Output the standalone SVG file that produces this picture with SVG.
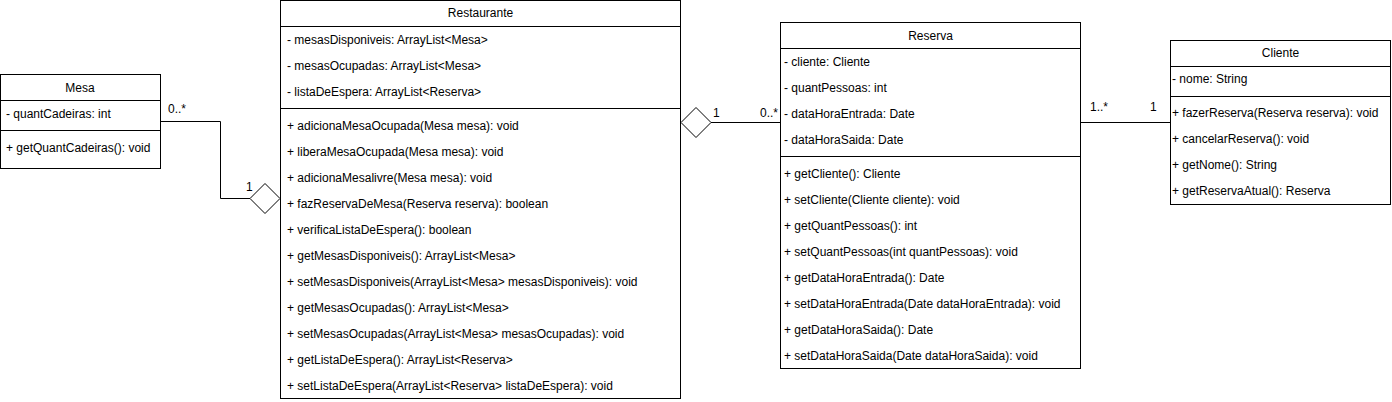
<svg xmlns="http://www.w3.org/2000/svg" width="1392" height="402" viewBox="0 0 1392 402">
<style>
.box{fill:#fff;stroke:#000;stroke-width:1}
.sep{stroke:#000;stroke-width:1}
text{font-family:"Liberation Sans",Arial,Helvetica,sans-serif;font-size:12px;fill:#000}
.t{text-anchor:middle}
.conn{fill:none;stroke:#000;stroke-width:1}
.dia{fill:#fff;stroke:#000;stroke-width:1}
</style>
<rect width="1392" height="402" fill="#fff"/>
<g id="connectors">
<polyline class="conn" points="160,121.5 220.5,121.5 220.5,198.5 250,198.5"/>
<polygon class="dia" points="250,198.5 265,183.5 280,198.5 265,213.5"/>
<text x="168" y="113">0..*</text>
<text x="246" y="191">1</text>
<line class="conn" x1="711" y1="122.5" x2="780" y2="122.5"/>
<polygon class="dia" points="681,122.5 696,107.5 711,122.5 696,137.5"/>
<text x="713" y="117">1</text>
<text x="760" y="117">0..*</text>
<line class="conn" x1="1080" y1="122.5" x2="1170" y2="122.5"/>
<text x="1090" y="111">1..*</text>
<text x="1150" y="111">1</text>
</g>
<g id="Mesa">
<rect class="box" x="0.5" y="74.5" width="160" height="94"/>
<line class="sep" x1="0.5" y1="100.5" x2="160.5" y2="100.5"/>
<line class="sep" x1="0.5" y1="130.5" x2="160.5" y2="130.5"/>
<text class="t" x="80" y="92">Mesa</text>
<text x="6" y="118">- quantCadeiras: int</text>
<text x="6" y="152">+ getQuantCadeiras(): void</text>
</g>
<g id="Restaurante">
<rect class="box" x="280.5" y="0.5" width="400" height="398"/>
<line class="sep" x1="280.5" y1="26.5" x2="680.5" y2="26.5"/>
<line class="sep" x1="280.5" y1="108.5" x2="680.5" y2="108.5"/>
<text class="t" x="480.5" y="17">Restaurante</text>
<text x="287" y="44">- mesasDisponiveis: ArrayList&lt;Mesa&gt;</text>
<text x="287" y="70">- mesasOcupadas: ArrayList&lt;Mesa&gt;</text>
<text x="287" y="96">- listaDeEspera: ArrayList&lt;Reserva&gt;</text>
<text x="287" y="130">+ adicionaMesaOcupada(Mesa mesa): void</text>
<text x="287" y="156">+ liberaMesaOcupada(Mesa mesa): void</text>
<text x="287" y="182">+ adicionaMesalivre(Mesa mesa): void</text>
<text x="287" y="208">+ fazReservaDeMesa(Reserva reserva): boolean</text>
<text x="287" y="234">+ verificaListaDeEspera(): boolean</text>
<text x="287" y="260">+ getMesasDisponiveis(): ArrayList&lt;Mesa&gt;</text>
<text x="287" y="286">+ setMesasDisponiveis(ArrayList&lt;Mesa&gt; mesasDisponiveis): void</text>
<text x="287" y="312">+ getMesasOcupadas(): ArrayList&lt;Mesa&gt;</text>
<text x="287" y="338">+ setMesasOcupadas(ArrayList&lt;Mesa&gt; mesasOcupadas): void</text>
<text x="287" y="364">+ getListaDeEspera(): ArrayList&lt;Reserva&gt;</text>
<text x="287" y="390">+ setListaDeEspera(ArrayList&lt;Reserva&gt; listaDeEspera): void</text>
</g>
<g id="Reserva">
<rect class="box" x="780.5" y="22.5" width="300" height="346"/>
<line class="sep" x1="780.5" y1="48.5" x2="1080.5" y2="48.5"/>
<line class="sep" x1="780.5" y1="156.5" x2="1080.5" y2="156.5"/>
<text class="t" x="930.5" y="40">Reserva</text>
<text x="784" y="66">- cliente: Cliente</text>
<text x="784" y="92">- quantPessoas: int</text>
<text x="784" y="118">- dataHoraEntrada: Date</text>
<text x="784" y="144">- dataHoraSaida: Date</text>
<text x="784" y="178">+ getCliente(): Cliente</text>
<text x="784" y="204">+ setCliente(Cliente cliente): void</text>
<text x="784" y="230">+ getQuantPessoas(): int</text>
<text x="784" y="256">+ setQuantPessoas(int quantPessoas): void</text>
<text x="784" y="282">+ getDataHoraEntrada(): Date</text>
<text x="784" y="308">+ setDataHoraEntrada(Date dataHoraEntrada): void</text>
<text x="784" y="334">+ getDataHoraSaida(): Date</text>
<text x="784" y="360">+ setDataHoraSaida(Date dataHoraSaida): void</text>
</g>
<g id="Cliente">
<rect class="box" x="1170.5" y="40.5" width="220" height="164"/>
<line class="sep" x1="1170.5" y1="66.5" x2="1390.5" y2="66.5"/>
<line class="sep" x1="1170.5" y1="96.5" x2="1390.5" y2="96.5"/>
<text class="t" x="1280.5" y="57">Cliente</text>
<text x="1172" y="83">- nome: String</text>
<text x="1172" y="117">+ fazerReserva(Reserva reserva): void</text>
<text x="1172" y="143">+ cancelarReserva(): void</text>
<text x="1172" y="169">+ getNome(): String</text>
<text x="1172" y="195">+ getReservaAtual(): Reserva</text>
</g>
</svg>
